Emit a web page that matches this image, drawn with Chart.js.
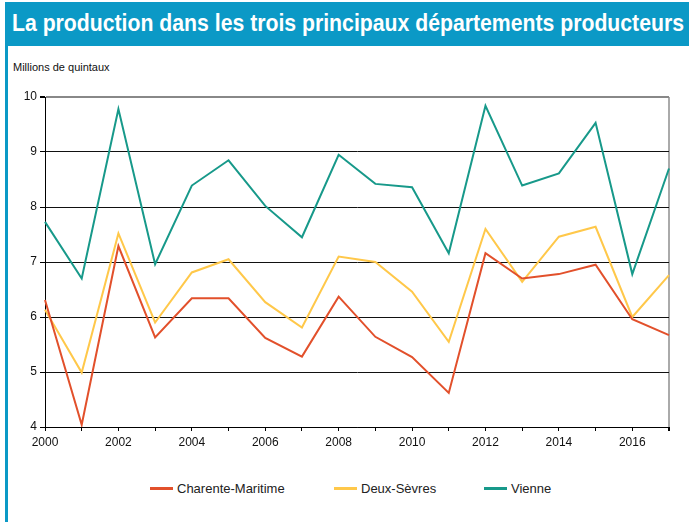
<!DOCTYPE html>
<html lang="fr">
<head>
    <meta charset="UTF-8">
    <title>La production dans les trois principaux départements producteurs</title>
    <script src="https://cdn.jsdelivr.net/npm/chart.js"></script>
    <style>
        body { margin: 0; width: 689px; height: 522px; position: relative; overflow: hidden; background: #fff; font-family: "Liberation Sans", Arial, sans-serif; }
        #header { position: absolute; left: 5px; top: 2px; width: 684px; height: 44px; background: #0B99C6; }
        #header h1 { margin: 0; position: absolute; left: 7px; top: 8px; color: #fff; font-size: 23px; font-weight: bold; white-space: nowrap; font-family: "Liberation Sans Narrow", "Liberation Sans", Arial, sans-serif; transform-origin: left top; }
        #leftBar { position: absolute; left: 5px; top: 46px; width: 3px; height: 476px; background: #0B99C6; }
        #unit { position: absolute; left: 13px; top: 61px; font-size: 11px; color: #111; }
        #chartBox { position: absolute; left: 0; top: 46px; width: 689px; height: 414px; }
        #legend { position: absolute; top: 481px; left: 0; width: 689px; height: 16px; font-size: 13px; color: #222; }
        .item { position: absolute; top: 0; white-space: nowrap; }
        .swatch { display: inline-block; width: 23px; height: 3px; vertical-align: middle; margin-right: 4px; position: relative; top: -1px; }
    </style>
</head>
<body>
    <div id="header"><h1 id="title">La production dans les trois principaux départements producteurs</h1></div>
    <div id="leftBar"></div>
    <div id="unit">Millions de quintaux</div>
    <div id="chartBox"><canvas id="prodChart"></canvas></div>
    <div id="legend"></div>

    <script>
        const annees = ['2000','2001','2002','2003','2004','2005','2006','2007','2008','2009','2010','2011','2012','2013','2014','2015','2016','2017'];
        const charenteMaritime = [6.31, 4.04, 7.29, 5.63, 6.34, 6.34, 5.62, 5.28, 6.37, 5.64, 5.27, 4.62, 7.16, 6.70, 6.78, 6.95, 5.96, 5.67];
        const deuxSevres = [6.13, 4.99, 7.52, 5.90, 6.81, 7.05, 6.27, 5.81, 7.10, 7.00, 6.46, 5.55, 7.60, 6.64, 7.46, 7.64, 6.00, 6.76];
        const vienne = [7.73, 6.70, 9.78, 6.96, 8.39, 8.85, 8.02, 7.45, 8.95, 8.42, 8.36, 7.16, 9.84, 8.39, 8.61, 9.53, 6.78, 8.70];
        const legendePositions = [150, 334, 484];

        // ajuster la largeur du titre
        const titre = document.getElementById('title');
        const largeur = titre.getBoundingClientRect().width;
        titre.style.transform = 'scaleX(' + (672 / largeur) + ')';

        const police = { family: "'Liberation Sans', Arial, sans-serif", size: 12 };

        const chart = new Chart(document.getElementById('prodChart'), {
            type: 'line',
            data: {
                labels: annees,
                datasets: [
                    { label: 'Charente-Maritime', data: charenteMaritime, borderColor: '#E2502B', borderWidth: 2 },
                    { label: 'Deux-Sèvres', data: deuxSevres, borderColor: '#FFC84A', borderWidth: 2 },
                    { label: 'Vienne', data: vienne, borderColor: '#17998A', borderWidth: 2 }
                ]
            },
            options: {
                responsive: true,
                maintainAspectRatio: false,
                animation: false,
                elements: { point: { radius: 0 }, line: { tension: 0 } },
                layout: { padding: { top: 51, right: 20, left: 0, bottom: 0 } },
                plugins: { legend: { display: false }, tooltip: { enabled: false } },
                scales: {
                    x: {
                        afterFit: s => { s.height = 33; },
                        grid: {
                            drawOnChartArea: true,
                            color: c => c.index === annees.length - 1 ? '#AAAAAA' : 'rgba(0,0,0,0)',
                            lineWidth: c => c.index === annees.length - 1 ? 2 : 1,
                            tickColor: '#000',
                            tickLength: 4
                        },
                        border: { color: '#000', width: 1 },
                        ticks: {
                            autoSkip: false,
                            maxRotation: 0,
                            padding: 4,
                            color: '#111',
                            font: police,
                            callback: (v, i) => i % 2 === 0 ? annees[i] : ''
                        }
                    },
                    y: {
                        min: 4,
                        max: 10,
                        afterFit: s => { s.width = 45; },
                        grid: {
                            color: c => c.tick.value === 10 ? '#888888' : '#111',
                            lineWidth: c => c.tick.value === 10 ? 2 : 1,
                            tickColor: '#000',
                            tickLength: 5
                        },
                        border: { color: '#000', width: 1 },
                        ticks: { stepSize: 1, padding: 3, color: '#111', font: police }
                    }
                }
            }
        });

        // légende HTML construite depuis les jeux de données
        const legende = document.getElementById('legend');
        chart.data.datasets.forEach((ds, i) => {
            const item = document.createElement('div');
            item.className = 'item';
            item.style.left = legendePositions[i] + 'px';
            const sw = document.createElement('span');
            sw.className = 'swatch';
            sw.style.background = ds.borderColor;
            item.appendChild(sw);
            item.appendChild(document.createTextNode(ds.label));
            legende.appendChild(item);
        });
    </script>
</body>
</html>
